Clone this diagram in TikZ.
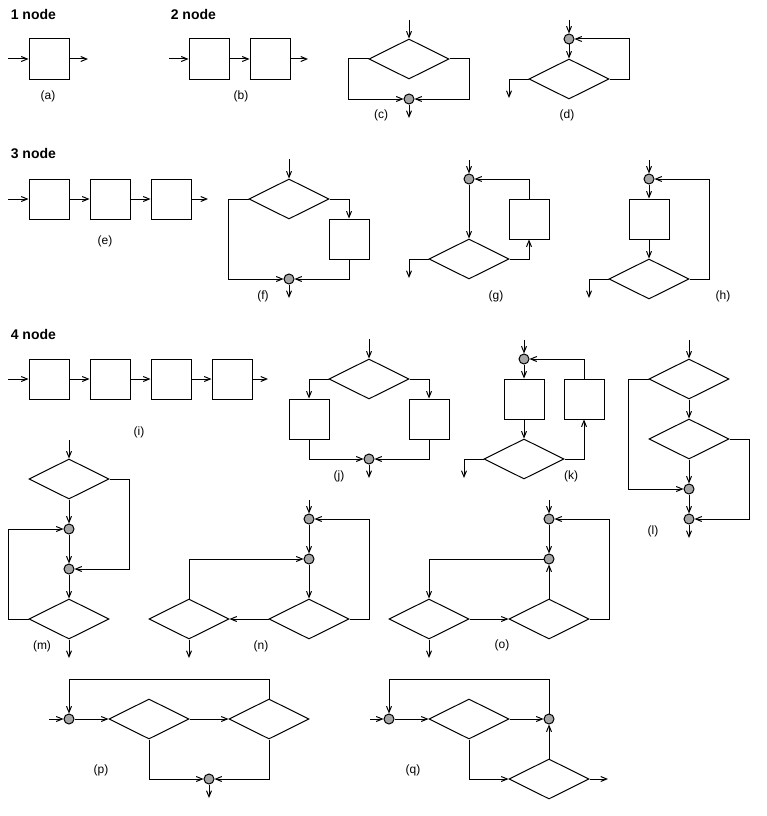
\documentclass[tikz,border=0pt]{standalone}
\usepackage{fontspec}
\setmainfont{Liberation Sans}
\usetikzlibrary{arrows.meta,shapes.geometric,positioning}

\begin{document}
\begin{tikzpicture}[
  x=1pt, y=-1pt,
  >={Straight Barb[length=6pt,width=5pt]},
  line width=1pt,
  box/.style={draw, rectangle, minimum size=40pt, inner sep=0pt},
  cond/.style={draw, diamond, minimum width=80pt, minimum height=40pt, inner sep=0pt},
  junc/.style={draw, circle, fill=gray!70, minimum size=10pt, inner sep=0pt},
  lbl/.style={font=\fontsize{12}{14}\selectfont},
  head/.style={font=\fontsize{14}{16}\selectfont\bfseries, anchor=west},
  node distance=20pt,
  ]
  \useasboundingbox (0,0) rectangle (766,816);

  \node[head] (h1) at (7,14) {1 node};
  \node[head] (h2) at (167,14) {2 node};
  \node[head] (h3) at (7,154) {3 node};
  \node[head] (h4) at (7,334) {4 node};

  % (a)
  \coordinate (a0) at (8,59);
  \node[box] (a1) at (49,59) {};
  \coordinate (a9) at (88,59);
  \node[lbl] (la) at (48,96) {(a)};
  \draw [->] (a0) -- (a1);
  \draw [->] (a1) -- (a9);

  % (b)
  \coordinate (b0) at (169,59);
  \node[box] (b1) at (209,59) {};
  \node[box, right = of b1] (b2) {};
  \coordinate (b9) at (308,59);
  \node[lbl] (lb) at (241,96) {(b)};
  \draw [->] (b0) -- (b1);
  \draw [->] (b1) -- (b2);
  \draw [->] (b2) -- (b9);

  % (c)
  \coordinate (c0) at (409,20);
  \node[cond] (c1) at (409,59) {};
  \node[junc] (c2) at (409,99) {};
  \coordinate (c9) at (409,118);
  \node[lbl] (lc) at (381,115) {(c)};
  \draw [->] (c0) -- (c1);
  \draw [->] (c1.west) -- ++(-20,0) |- (c2);
  \draw [->] (c1.east) -- ++(20,0) |- (c2);
  \draw [->] (c2) -- (c9);

  % (d)
  \coordinate (d0) at (569,20);
  \node[junc] (d1) at (569,39) {};
  \node[cond] (d2) at (569,79) {};
  \coordinate (d9) at (509,98);
  \node[lbl] (ld) at (567,115) {(d)};
  \draw [->] (d0) -- (d1);
  \draw [->] (d1) -- (d2);
  \draw [->] (d2.east) -- ++(20,0) |- (d1);
  \draw [->] (d2.west) -| (d9);

  % (e)
  \coordinate (e0) at (8,199);
  \node[box] (e1) at (49,199) {};
  \node[box, right = of e1] (e2) {};
  \node[box, right = of e2] (e3) {};
  \coordinate (e9) at (208,199);
  \node[lbl] (le) at (105,241) {(e)};
  \draw [->] (e0) -- (e1);
  \draw [->] (e1) -- (e2);
  \draw [->] (e2) -- (e3);
  \draw [->] (e3) -- (e9);

  % (f)
  \coordinate (f0) at (289,159);
  \node[cond] (f1) at (289,199) {};
  \node[box] (f2) at (349,239) {};
  \node[junc] (f3) at (289,279) {};
  \coordinate (f9) at (289,298);
  \node[lbl] (lf) at (263,296) {(f)};
  \draw [->] (f0) -- (f1);
  \draw [->] (f1.east) -| (f2);
  \draw [->] (f2) |- (f3);
  \draw [->] (f1.west) -- ++(-20,0) |- (f3);
  \draw [->] (f3) -- (f9);

  % (g)
  \coordinate (g0) at (469,160);
  \node[junc] (g1) at (469,179) {};
  \node[cond] (g2) at (469,259) {};
  \node[box] (g3) at (529,219) {};
  \coordinate (g9) at (409,278);
  \node[lbl] (lg) at (496,296) {(g)};
  \draw [->] (g0) -- (g1);
  \draw [->] (g1) -- (g2);
  \draw [->] (g2.east) -| (g3);
  \draw [->] (g3) |- (g1);
  \draw [->] (g2.west) -| (g9);

  % (h)
  \coordinate (h0) at (649,160);
  \node[junc] (h1) at (649,179) {};
  \node[box] (h2) at (649,219) {};
  \node[cond] (h3) at (649,279) {};
  \coordinate (h9) at (589,298);
  \node[lbl] (lh) at (723,296) {(h)};
  \draw [->] (h0) -- (h1);
  \draw [->] (h1) -- (h2);
  \draw [->] (h2) -- (h3);
  \draw [->] (h3.east) -- ++(20,0) |- (h1);
  \draw [->] (h3.west) -| (h9);

  % (i)
  \coordinate (i0) at (8,379);
  \node[box] (i1) at (49,379) {};
  \node[box, right = of i1] (i2) {};
  \node[box, right = of i2] (i3) {};
  \node[box, right = of i3] (i4) {};
  \coordinate (i9) at (268,379);
  \node[lbl] (li) at (139,432) {(i)};
  \draw [->] (i0) -- (i1);
  \draw [->] (i1) -- (i2);
  \draw [->] (i2) -- (i3);
  \draw [->] (i3) -- (i4);
  \draw [->] (i4) -- (i9);

  % (j)
  \coordinate (j0) at (369,339);
  \node[cond] (j1) at (369,379) {};
  \node[box] (j2) at (309,419) {};
  \node[box] (j3) at (429,419) {};
  \node[junc] (j4) at (369,459) {};
  \coordinate (j9) at (369,478);
  \node[lbl] (lj) at (339,476) {(j)};
  \draw [->] (j0) -- (j1);
  \draw [->] (j1.west) -| (j2);
  \draw [->] (j1.east) -| (j3);
  \draw [->] (j2) |- (j4);
  \draw [->] (j3) |- (j4);
  \draw [->] (j4) -- (j9);

  % (k)
  \coordinate (k0) at (524,340);
  \node[junc] (k1) at (524,359) {};
  \node[box] (k2) at (524,399) {};
  \node[cond] (k3) at (524,459) {};
  \node[box] (k4) at (584,399) {};
  \coordinate (k9) at (464,478);
  \node[lbl] (lk) at (571,476) {(k)};
  \draw [->] (k0) -- (k1);
  \draw [->] (k1) -- (k2);
  \draw [->] (k2) -- (k3);
  \draw [->] (k3.east) -| (k4);
  \draw [->] (k4) |- (k1);
  \draw [->] (k3.west) -| (k9);

  % (l)
  \coordinate (l0) at (689,340);
  \node[cond] (l1) at (689,379) {};
  \node[cond] (l2) at (689,439) {};
  \node[junc] (l3) at (689,489) {};
  \node[junc] (l4) at (689,519) {};
  \coordinate (l9) at (689,538);
  \node[lbl] (ll) at (653,531) {(l)};
  \draw [->] (l0) -- (l1);
  \draw [->] (l1) -- (l2);
  \draw [->] (l2) -- (l3);
  \draw [->] (l3) -- (l4);
  \draw [->] (l4) -- (l9);
  \draw [->] (l1.west) -- ++(-20,0) |- (l3);
  \draw [->] (l2.east) -- ++(20,0) |- (l4);

  % (m)
  \coordinate (m0) at (69,440);
  \node[cond] (m1) at (69,479) {};
  \node[junc] (m2) at (69,529) {};
  \node[junc] (m3) at (69,569) {};
  \node[cond] (m4) at (69,619) {};
  \coordinate (m9) at (69,658);
  \node[lbl] (lm) at (42,646) {(m)};
  \draw [->] (m0) -- (m1);
  \draw [->] (m1) -- (m2);
  \draw [->] (m2) -- (m3);
  \draw [->] (m3) -- (m4);
  \draw [->] (m4) -- (m9);
  \draw [->] (m1.east) -- ++(20,0) |- (m3);
  \draw [->] (m4.west) -- ++(-20,0) |- (m2);

  % (n)
  \coordinate (n0) at (309,500);
  \node[junc] (n1) at (309,519) {};
  \node[junc] (n2) at (309,559) {};
  \node[cond] (n3) at (309,619) {};
  \node[cond] (n4) at (189,619) {};
  \coordinate (n9) at (189,658);
  \node[lbl] (ln) at (261,646) {(n)};
  \draw [->] (n0) -- (n1);
  \draw [->] (n1) -- (n2);
  \draw [->] (n2) -- (n3);
  \draw [->] (n3.east) -- ++(20,0) |- (n1);
  \draw [->] (n3) -- (n4);
  \draw [->] (n4) |- (n2);
  \draw [->] (n4) -- (n9);

  % (o)
  \coordinate (o0) at (549,500);
  \node[junc] (o1) at (549,519) {};
  \node[junc] (o2) at (549,559) {};
  \node[cond] (o3) at (549,619) {};
  \node[cond] (o4) at (429,619) {};
  \coordinate (o9) at (429,658);
  \node[lbl] (lo) at (502,645) {(o)};
  \draw [->] (o0) -- (o1);
  \draw [->] (o1) -- (o2);
  \draw [->] (o3) -- (o2);
  \draw [->] (o3.east) -- ++(20,0) |- (o1);
  \draw [->] (o2) -| (o4);
  \draw [->] (o4) -- (o3);
  \draw [->] (o4) -- (o9);

  % (p)
  \coordinate (p0) at (49,719);
  \node[junc] (p1) at (69,719) {};
  \node[cond] (p2) at (149,719) {};
  \node[cond] (p3) at (269,719) {};
  \node[junc] (p4) at (209,779) {};
  \coordinate (p9) at (209,798);
  \node[lbl] (lp) at (101,770) {(p)};
  \draw [->] (p0) -- (p1);
  \draw [->] (p1) -- (p2);
  \draw [->] (p2) -- (p3);
  \draw [->] (p3) -- ++(0,-40) -| (p1);
  \draw [->] (p2) |- (p4);
  \draw [->] (p3) |- (p4);
  \draw [->] (p4) -- (p9);

  % (q)
  \coordinate (q0) at (370,719);
  \node[junc] (q1) at (389,719) {};
  \node[cond] (q2) at (469,719) {};
  \node[junc] (q3) at (549,719) {};
  \node[cond] (q4) at (549,779) {};
  \coordinate (q9) at (608,779);
  \node[lbl] (lq) at (413,770) {(q)};
  \draw [->] (q0) -- (q1);
  \draw [->] (q1) -- (q2);
  \draw [->] (q2) -- (q3);
  \draw [->] (q3) -- ++(0,-40) -| (q1);
  \draw [->] (q2) |- (q4);
  \draw [->] (q4) -- (q3);
  \draw [->] (q4) -- (q9);
\end{tikzpicture}
\end{document}
